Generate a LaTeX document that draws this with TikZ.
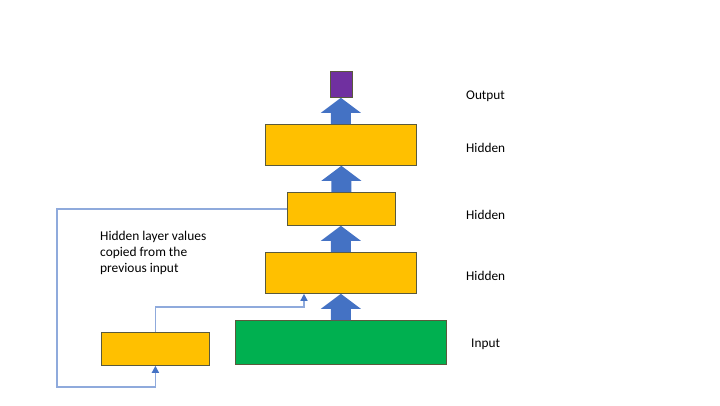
\documentclass[tikz,border=0pt]{standalone}
\usepackage{fontspec}
\setmainfont{Carlito}
\usetikzlibrary{calc,arrows.meta}
\definecolor{ybox}{HTML}{FFC000}
\definecolor{gbox}{HTML}{00B050}
\definecolor{pbox}{HTML}{7030A0}
\definecolor{bdr}{HTML}{5A5A3C}
\definecolor{ablue}{HTML}{4472C4}
\definecolor{lblue}{HTML}{8FAADC}
\tikzset{
  layer/.style={draw=bdr, line width=0.8pt, inner sep=0pt, anchor=north west},
  lbl/.style={anchor=west, inner sep=0pt, font=\fontsize{13.3}{16}\selectfont},
  thin/.style={draw=lblue, line width=1.5pt, -{Triangle[width=7pt,length=7pt,color=ablue]}},
}
\newcommand{\blkarrow}[2]{%
  \path let \p1=(#1.north), \p2=(#2.south) in
    [fill=ablue] (\x1-10pt,\y1) -- (\x1-10pt,\y2-15pt) -- (\x1-20pt,\y2-15pt) -- (\x1,\y2)
    -- (\x1+20pt,\y2-15pt) -- (\x1+10pt,\y2-15pt) -- (\x1+10pt,\y1) -- cycle;}
\begin{document}
\begin{tikzpicture}[x=1pt,y=-1pt]
\useasboundingbox (0,0) rectangle (720,405);
\node[layer, fill=pbox, minimum width=22pt, minimum height=26pt] (out) at (330,71) {};
\node[layer, fill=ybox, minimum width=151pt, minimum height=41pt] (h3) at (265,124) {};
\node[layer, fill=ybox, minimum width=108pt, minimum height=33pt] (h2) at (287,192) {};
\node[layer, fill=ybox, minimum width=151pt, minimum height=41pt] (h1) at (265,252) {};
\node[layer, fill=gbox, minimum width=211pt, minimum height=44pt] (inp) at (235,320) {};
\node[layer, fill=ybox, minimum width=108pt, minimum height=33pt] (ctx) at (101,332) {};
\blkarrow{h3}{out}
\blkarrow{h2}{h3}
\blkarrow{h1}{h2}
\blkarrow{inp}{h1}
\node[lbl] (lo) at (466,96) {Output};
\node[lbl] (l3) at (466,148) {Hidden};
\node[lbl] (l2) at (466,215) {Hidden};
\node[lbl] (l1) at (466,276) {Hidden};
\node[lbl] (li) at (471,344) {Input};
\node[anchor=north west, inner sep=0pt, align=left, font=\fontsize{13.4}{16}\selectfont] (note) at (100,231)
  {Hidden layer values\\copied from the\\previous input};
\coordinate (c1) at (57,387);
\coordinate (j) at (304,307);
\draw[thin] (h2.west) -- (h2.west -| c1) -- (c1) -- (c1 -| ctx.south) -- (ctx.south);
\draw[thin] (ctx.north) -- (ctx.north |- j) -- (j) -- (j |- h1.south);
\end{tikzpicture}
\end{document}
